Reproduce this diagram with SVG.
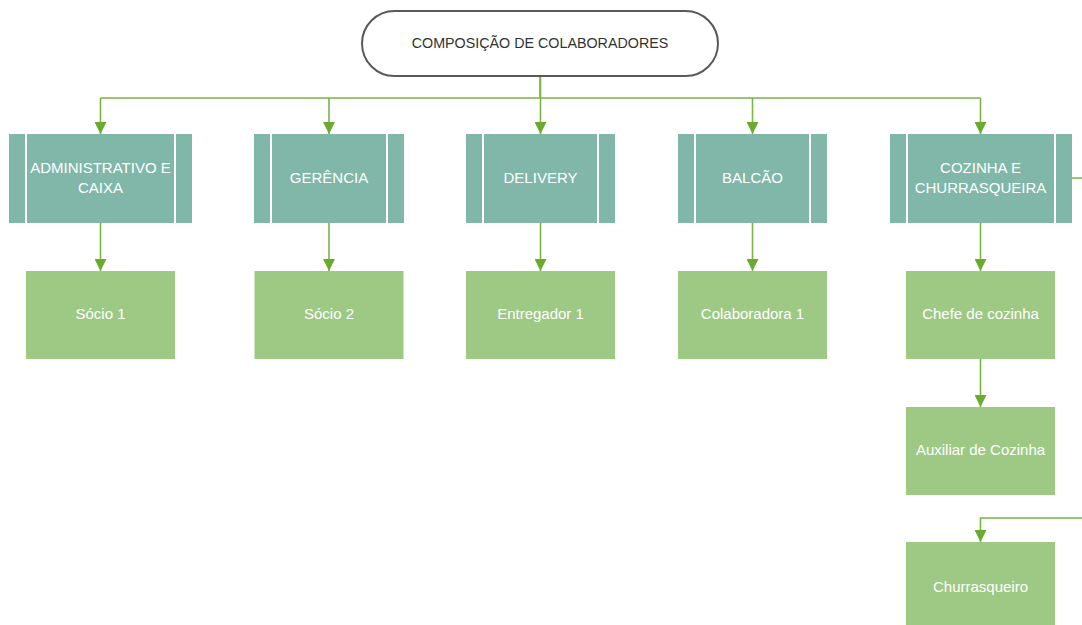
<svg xmlns="http://www.w3.org/2000/svg" width="1082" height="625" viewBox="0 0 1082 625">
<defs>
<style>
.proc{fill:#80b7a8}
.sep{stroke:#ffffff;stroke-width:2}
.box{fill:#9dc985}
.lbl{font-family:"Liberation Sans",Arial,sans-serif;font-size:15px;fill:#ffffff;text-anchor:middle}
.title{font-family:"Liberation Sans",Arial,sans-serif;font-size:14.3px;fill:#333333;text-anchor:middle}
.con{fill:none;stroke:#78b543;stroke-width:1.6}
</style>
<marker id="arr" viewBox="0 0 10 10" refX="10" refY="5" markerWidth="7.5" markerHeight="7.5" markerUnits="strokeWidth" orient="auto">
<path d="M0,0 L10,5 L0,10 Z" fill="#6aaa2f"/>
</marker>
</defs>
<rect width="1082" height="625" fill="#ffffff"/>
<g id="connectors">
<path class="con" d="M540,76 V98 M100.5,98 H980.5" />
<path class="con" d="M100.5,98 V134" marker-end="url(#arr)"/>
<path class="con" d="M329,98 V134" marker-end="url(#arr)"/>
<path class="con" d="M540.5,76 V134" marker-end="url(#arr)"/>
<path class="con" d="M752.5,98 V134" marker-end="url(#arr)"/>
<path class="con" d="M980.5,98 V134" marker-end="url(#arr)"/>
<path class="con" d="M100.5,223 V271" marker-end="url(#arr)"/>
<path class="con" d="M329,210 V271" marker-end="url(#arr)"/>
<path class="con" d="M540.5,223 V271" marker-end="url(#arr)"/>
<path class="con" d="M752.5,210 V271" marker-end="url(#arr)"/>
<path class="con" d="M980.5,210 V271" marker-end="url(#arr)"/>
<path class="con" d="M980.5,359 V407" marker-end="url(#arr)"/>
<path class="con" d="M1072,178 H1095 V518 H980.5 V542" marker-end="url(#arr)"/>
</g>
<g id="title">
<rect x="362" y="11" width="356" height="65" rx="32.5" ry="32.5" fill="#ffffff" stroke="#595959" stroke-width="2"/>
<text class="title" x="540" y="48">COMPOSIÇÃO DE COLABORADORES</text>
</g>
<g id="administrativo">
<rect class="proc" x="9" y="134" width="183" height="89"/>
<line class="sep" x1="26" y1="134" x2="26" y2="223"/>
<line class="sep" x1="175" y1="134" x2="175" y2="223"/>
<text class="lbl" x="100.5" y="173">ADMINISTRATIVO E</text>
<text class="lbl" x="100.5" y="193">CAIXA</text>
</g>
<g id="gerencia">
<rect class="proc" x="254" y="134" width="150" height="89"/>
<line class="sep" x1="271" y1="134" x2="271" y2="223"/>
<line class="sep" x1="387" y1="134" x2="387" y2="223"/>
<text class="lbl" x="329" y="183">GERÊNCIA</text>
</g>
<g id="delivery">
<rect class="proc" x="466" y="134" width="149" height="89"/>
<line class="sep" x1="483" y1="134" x2="483" y2="223"/>
<line class="sep" x1="598" y1="134" x2="598" y2="223"/>
<text class="lbl" x="540.5" y="183">DELIVERY</text>
</g>
<g id="balcao">
<rect class="proc" x="678" y="134" width="149" height="89"/>
<line class="sep" x1="695" y1="134" x2="695" y2="223"/>
<line class="sep" x1="810" y1="134" x2="810" y2="223"/>
<text class="lbl" x="752.5" y="183">BALCÃO</text>
</g>
<g id="cozinha">
<rect class="proc" x="890" y="134" width="182" height="89"/>
<line class="sep" x1="907" y1="134" x2="907" y2="223"/>
<line class="sep" x1="1055" y1="134" x2="1055" y2="223"/>
<text class="lbl" x="980.5" y="173">COZINHA E</text>
<text class="lbl" x="980.5" y="193">CHURRASQUEIRA</text>
</g>
<g id="socio1">
<rect class="box" x="26" y="271" width="149" height="88"/>
<text class="lbl" x="100.5" y="319">Sócio 1</text>
</g>
<g id="socio2">
<rect class="box" x="254.5" y="271" width="149" height="88"/>
<text class="lbl" x="329" y="319">Sócio 2</text>
</g>
<g id="entregador">
<rect class="box" x="466" y="271" width="149" height="88"/>
<text class="lbl" x="540.5" y="319">Entregador 1</text>
</g>
<g id="colaboradora">
<rect class="box" x="678" y="271" width="149" height="88"/>
<text class="lbl" x="752.5" y="319">Colaboradora 1</text>
</g>
<g id="chefe">
<rect class="box" x="906" y="271" width="149" height="88"/>
<text class="lbl" x="980.5" y="319">Chefe de cozinha</text>
</g>
<g id="auxiliar">
<rect class="box" x="906" y="407" width="149" height="88"/>
<text class="lbl" x="980.5" y="455">Auxiliar de Cozinha</text>
</g>
<g id="churrasqueiro">
<rect class="box" x="906" y="542" width="149" height="88"/>
<text class="lbl" x="980.5" y="592">Churrasqueiro</text>
</g>
</svg>
